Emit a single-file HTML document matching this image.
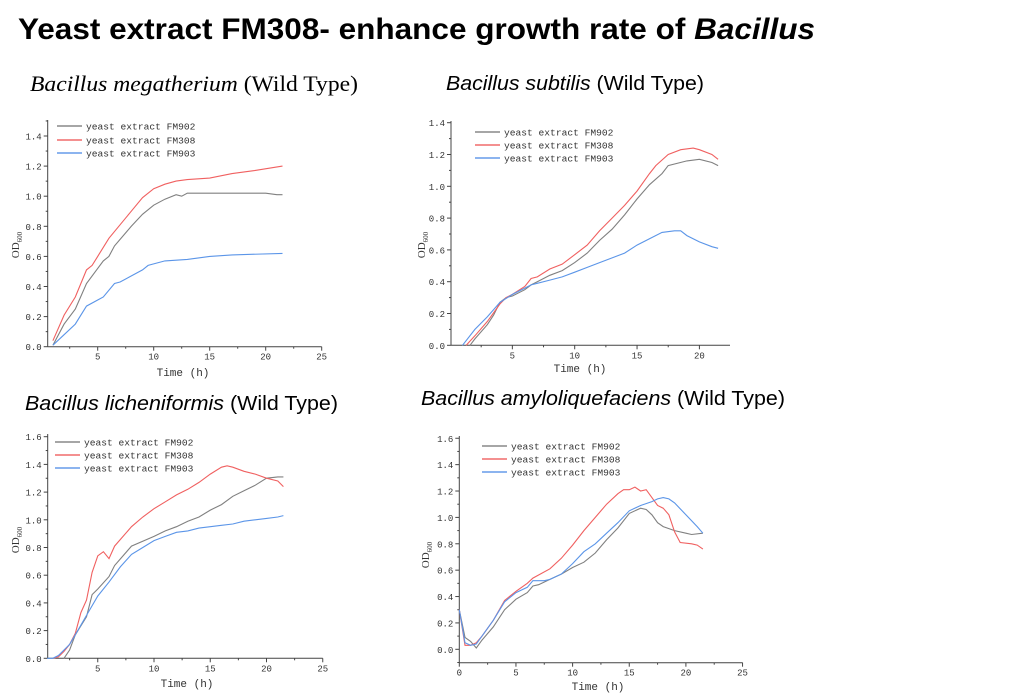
<!DOCTYPE html>
<html><head><meta charset="utf-8"><style>
html,body{margin:0;padding:0;background:#fff;width:1024px;height:698px;overflow:hidden}
svg{display:block}
</style></head><body>
<svg id="s" xmlns="http://www.w3.org/2000/svg" width="1024" height="698" viewBox="0 0 1024 698">
<rect width="1024" height="698" fill="#fff"/>
<text x="18" y="39" font-family="Liberation Sans, sans-serif" font-weight="bold" font-size="30" textLength="797" lengthAdjust="spacingAndGlyphs">Yeast extract FM308- enhance growth rate of <tspan font-style="italic">Bacillus</tspan></text>
<text x="30" y="91" font-family="Liberation Serif, serif" font-size="22" textLength="328" lengthAdjust="spacingAndGlyphs"><tspan font-style="italic">Bacillus megatherium</tspan> (Wild Type)</text>
<text x="446" y="90" font-family="Liberation Sans, sans-serif" font-size="20" textLength="258" lengthAdjust="spacingAndGlyphs"><tspan font-style="italic">Bacillus subtilis</tspan> (Wild Type)</text>
<text x="25" y="410" font-family="Liberation Sans, sans-serif" font-size="20" textLength="313" lengthAdjust="spacingAndGlyphs"><tspan font-style="italic">Bacillus licheniformis</tspan> (Wild Type)</text>
<text x="421" y="405" font-family="Liberation Sans, sans-serif" font-size="20" textLength="364" lengthAdjust="spacingAndGlyphs"><tspan font-style="italic">Bacillus amyloliquefaciens</tspan> (Wild Type)</text>
<g id="g"></g>
</svg>
<script>
var NS="http://www.w3.org/2000/svg",G=document.getElementById("g");
function el(t,a,txt){var e=document.createElementNS(NS,t);for(var k in a)e.setAttribute(k,a[k]);if(txt!=null)e.textContent=txt;G.appendChild(e);return e;}
var GR="#808080",RD="#f06060",BL="#5b95e8";
function chart(c){
 var X=function(t){return c.x0+t*c.sx},Y=function(v){return c.y0-v*c.sy};
 var ax=c.axX, ay=c.axY;
 el("line",{x1:ax,y1:ay,x2:ax,y2:c.top,stroke:"#444","stroke-width":1});
 el("line",{x1:ax,y1:ay,x2:c.right,y2:ay,stroke:"#444","stroke-width":1});
 for(var v=c.ymin;v<=c.ymax+1e-9;v+=0.1){var y=Y(v);if(y<c.top-1||y>ay+0.5)continue;
   var maj=Math.abs(Math.round(v*10)%2)==0;
   el("line",{x1:ax,y1:y,x2:ax-(maj?4:2),y2:y,stroke:"#444","stroke-width":1});
   if(maj)el("text",{x:ax-6,y:y+3.5,"text-anchor":"end","font-family":"Liberation Mono, monospace","font-size":9,fill:"#333"},(Math.round(v*10)/10).toFixed(1));}
 for(var t=0;t<=25;t+=2.5){var x=X(t);if(x<ax-0.5||x>c.right+0.5)continue;var mj=(t%5==0);
   el("line",{x1:x,y1:ay,x2:x,y2:ay+(mj?4:2),stroke:"#444","stroke-width":1});
   if(mj&&(t>0||c.show0))el("text",{x:x,y:ay+13,"text-anchor":"middle","font-family":"Liberation Mono, monospace","font-size":9,fill:"#333"},t);}
 el("text",{x:c.tx,y:c.ty,"text-anchor":"middle","font-family":"Liberation Mono, monospace","font-size":11,fill:"#333"},"Time (h)");
 var yl=el("text",{x:0,y:0,"text-anchor":"middle","font-family":"Liberation Serif, serif","font-size":11,fill:"#333",transform:"translate("+c.lx+","+c.ly+") rotate(-90)"},"OD");
 var ts=document.createElementNS(NS,"tspan");ts.setAttribute("font-size","7");ts.setAttribute("dy","3");ts.textContent="600";yl.appendChild(ts);
 var cols=[GR,RD,BL],names=["yeast extract FM902","yeast extract FM308","yeast extract FM903"];
 for(var i=0;i<3;i++){var d=c.d[i],p="";
   for(var j=0;j<d.length;j+=2)p+=(j?"L":"M")+X(d[j]).toFixed(1)+","+Y(d[j+1]).toFixed(1);
   el("path",{d:p,fill:"none",stroke:cols[i],"stroke-width":1.1});
   var ly=Math.round(c.leg[1]+i*c.leg[2]);
   el("rect",{x:c.leg[0],y:ly-0.7,width:25,height:1.4,fill:cols[i]});
   el("text",{x:c.leg[0]+29,y:ly+3.5,"font-family":"Liberation Mono, monospace","font-size":9.6,fill:"#333"},names[i]);}
}
chart({x0:41.7,sx:11.2,y0:346.7,sy:150.5,axX:47.7,axY:346.7,top:120,right:321.7,ymin:0,ymax:1.5,tx:183,ty:376,lx:19,ly:245,leg:[57,126,13.5],
d:[[1,0.01,2,0.15,3,0.25,4,0.42,5,0.52,5.5,0.57,6,0.6,6.5,0.67,8,0.8,9,0.88,10,0.94,11,0.98,12,1.01,12.5,1.0,13,1.02,15,1.02,20,1.02,21,1.01,21.5,1.01],
[1,0.04,2,0.21,3,0.33,4,0.51,4.5,0.54,5,0.6,6,0.72,8,0.9,9,0.99,10,1.05,11,1.08,12,1.1,13,1.11,15,1.12,17,1.15,19,1.17,21.5,1.2],
[1,0.01,2,0.08,3,0.15,4,0.27,5,0.31,5.5,0.33,6.5,0.42,7,0.43,9,0.51,9.5,0.54,11,0.57,13,0.58,15,0.6,17,0.61,21.5,0.62]]});
chart({x0:450,sx:12.47,y0:345.3,sy:159,axX:451,axY:345.3,top:121,right:730,ymin:0,ymax:1.4,tx:580,ty:372,lx:425,ly:245,leg:[475,132,13],
d:[[1.6,0,2,0.04,3,0.13,3.5,0.19,4,0.27,4.5,0.3,5,0.31,6,0.35,6.5,0.38,7,0.4,8,0.44,9,0.47,10,0.52,11,0.58,12,0.66,13,0.73,14,0.82,15,0.92,16,1.01,17,1.08,17.5,1.13,19,1.16,20,1.17,21,1.15,21.5,1.13],
[1.3,0,2,0.06,3,0.15,4,0.26,4.5,0.3,5,0.32,6,0.37,6.5,0.42,7,0.43,8,0.48,9,0.51,10,0.57,11,0.63,12,0.72,13,0.8,14,0.88,15,0.97,16,1.08,16.5,1.13,17.5,1.2,18.5,1.23,19.5,1.24,20,1.23,21,1.2,21.5,1.17],
[1,0,2,0.1,3,0.18,4,0.27,5,0.32,6,0.36,6.5,0.38,7,0.39,8,0.41,9,0.43,10,0.46,11,0.49,12,0.52,13,0.55,14,0.58,15,0.63,16,0.67,17,0.71,18,0.72,18.5,0.72,19,0.69,20,0.65,21,0.62,21.5,0.61]]});
chart({x0:41.5,sx:11.25,y0:658.3,sy:138.5,axX:47.7,axY:658.3,top:434,right:322.7,ymin:0,ymax:1.6,tx:187,ty:687,lx:19,ly:540,leg:[55,442,13],
d:[[2,0,2.5,0.06,3,0.17,4,0.3,4.5,0.46,5,0.5,6,0.59,6.5,0.67,8,0.81,10,0.88,11,0.92,12,0.95,13,0.99,14,1.02,15,1.07,16,1.11,17,1.17,18,1.21,19,1.25,20,1.3,21,1.31,21.5,1.31],
[1,0,1.5,0.01,2,0.05,2.5,0.1,3,0.18,3.5,0.33,4,0.42,4.5,0.62,5,0.74,5.5,0.77,6,0.72,6.5,0.81,8,0.95,9,1.02,10,1.08,11,1.13,12,1.18,13,1.22,14,1.27,15,1.33,16,1.38,16.5,1.39,17,1.38,18,1.35,19,1.33,20,1.3,21,1.28,21.5,1.24],
[0.5,0,1,0,1.5,0.02,2,0.06,2.5,0.1,3,0.17,4,0.31,5,0.45,6,0.55,7,0.66,8,0.75,9,0.8,10,0.85,11,0.88,12,0.91,13,0.92,14,0.94,15,0.95,16,0.96,17,0.97,18,0.99,19,1.0,20,1.01,21,1.02,21.5,1.03]]});
chart({x0:459.3,sx:11.33,y0:649.3,sy:131.9,axX:459.3,axY:662.7,top:436,right:742.7,ymin:-0.1,ymax:1.6,show0:true,tx:598,ty:690,lx:429,ly:555,leg:[482,446,13],
d:[[0,0.3,0.5,0.09,1,0.06,1.5,0.01,2,0.07,3,0.17,4,0.3,5,0.38,6,0.43,6.5,0.48,7,0.49,8,0.53,9,0.57,10,0.62,11,0.66,12,0.73,13,0.83,14,0.92,15,1.03,16,1.07,16.5,1.06,17,1.02,17.5,0.96,18,0.93,19,0.9,20,0.88,20.5,0.87,21.5,0.88],
[0,0.3,0.5,0.03,1,0.03,1.5,0.05,2,0.1,3,0.22,4,0.37,5,0.44,6,0.5,6.5,0.54,8,0.61,9,0.69,10,0.79,11,0.9,12,1.0,13,1.1,14,1.18,14.5,1.21,15,1.21,15.5,1.23,16,1.2,16.5,1.21,17.5,1.09,18,1.07,18.5,1.02,19,0.89,19.5,0.81,20.5,0.8,21,0.79,21.5,0.76],
[0,0.3,0.5,0.05,1,0.03,1.5,0.04,2,0.1,3,0.22,4,0.36,5,0.43,6,0.47,6.5,0.52,7.5,0.52,8,0.53,9,0.57,10,0.65,11,0.74,12,0.8,13,0.88,14,0.96,15,1.05,16,1.09,17,1.12,17.5,1.14,18,1.15,18.5,1.14,19,1.11,20,1.02,21,0.93,21.5,0.88]]});
</script>
</body></html>
